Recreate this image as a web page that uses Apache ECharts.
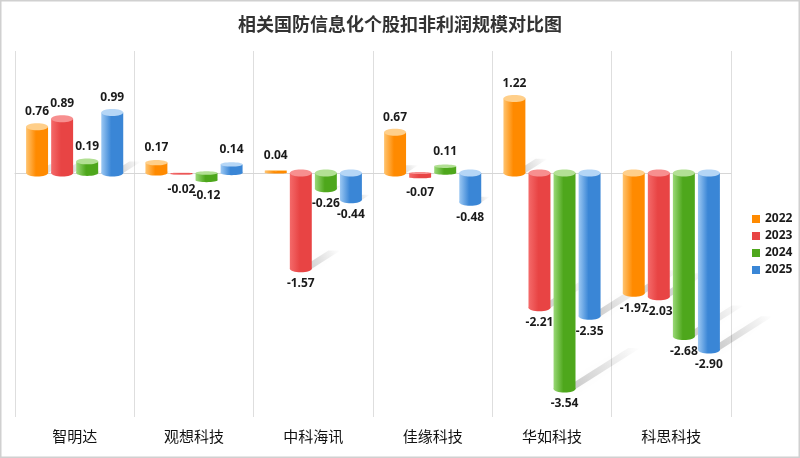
<!DOCTYPE html>
<html>
<head>
<meta charset="utf-8">
<script src="https://cdn.jsdelivr.net/npm/echarts@6/dist/echarts.min.js"></script>
<style>
  html, body { margin: 0; padding: 0; background: #fff; }
  #chart { width: 800px; height: 458px; }
</style>
</head>
<body>
<div id="chart"></div>
<script>
const companies = ["智明达", "观想科技", "中科海讯", "佳缘科技", "华如科技", "科思科技"];
const years = ["2022", "2023", "2024", "2025"];
const v2022 = [0.76, 0.17, 0.04, 0.67, 1.22, -1.97];
const v2023 = [0.89, -0.02, -1.57, -0.07, -2.21, -2.03];
const v2024 = [0.19, -0.12, -0.26, 0.11, -3.54, -2.68];
const v2025 = [0.99, 0.14, -0.44, -0.48, -2.35, -2.90];
const yearValues = [v2022, v2023, v2024, v2025];

// light / dark side of each cylinder
const colors = [
  { light: "#ffc470", dark: "#ff8a00", cap: "#ffcf8a" },
  { light: "#f46a6a", dark: "#e84444", cap: "#f78f8f" },
  { light: "#9ad877", dark: "#4ea71c", cap: "#b2e094" },
  { light: "#9cc8f3", dark: "#3a86d6", cap: "#b5d6f6" }
];

const chart = echarts.init(document.querySelector("#chart"));

// where does bar k of a category sit in pixels
const geom = (api, k) => {
  const cat = api.value(0);
  const val = api.value(1);
  const base = api.coord([cat, 0]);
  const end = api.coord([cat, val]);
  const band = api.size([1, 0])[0];
  const w = band * 0.184;
  const gap = band * 0.026;
  const cx = base[0] + (k - 1.5) * (w + gap);
  return {
    val, w, cx,
    x: cx - w / 2,
    yTop: Math.min(base[1], end[1]),
    yBot: Math.max(base[1], end[1])
  };
};

const cylinder = (k) => (params, api) => {
  const g = geom(api, k);
  const c = colors[k];
  const h = g.yBot - g.yTop;
  const ry = Math.min(3.5, h / 4);
  const fill = new echarts.graphic.LinearGradient(0, 0, 1, 0, [
    { offset: 0, color: c.light },
    { offset: 0.45, color: c.dark },
    { offset: 1, color: c.dark }
  ]);
  const label = g.val.toFixed(2);
  const ly = g.val >= 0 ? g.yTop - 15 : g.yBot + 15;
  return {
    type: "group",
    children: [
      { type: "rect", shape: { x: g.x, y: g.yTop, width: g.w, height: h }, style: { fill } },
      { type: "ellipse", shape: { cx: g.cx, cy: g.yBot, rx: g.w / 2, ry }, style: { fill } },
      { type: "ellipse", shape: { cx: g.cx, cy: g.yTop, rx: g.w / 2, ry }, style: { fill: c.cap } },
      {
        type: "text",
        style: {
          text: label, x: g.cx, y: ly, align: "center", verticalAlign: "middle",
          font: "bold 12px 'Noto Sans', sans-serif", fill: "#1a1a1a"
        },
        z2: 10
      }
    ]
  };
};

const shadow = (k) => (params, api) => {
  const g = geom(api, k);
  const h = g.yBot - g.yTop;
  if (h < 3) return null;
  const dx = h * 0.3;
  const dy = h * 0.19;
  const x0 = g.x + g.w * 0.45;
  const x1 = g.x + g.w;
  const y = g.yBot;
  return {
    type: "polygon",
    shape: { points: [[x0, y], [x1, y], [x1 + dx, y - dy], [x0 + dx, y - dy]] },
    style: {
      fill: new echarts.graphic.LinearGradient(0, 1, 1, 0, [
        { offset: 0, color: "rgba(0,0,0,0.22)" },
        { offset: 1, color: "rgba(0,0,0,0)" }
      ]),
      shadowBlur: 8,
      shadowColor: "rgba(0,0,0,0.12)"
    }
  };
};

const series = [];
years.forEach((y, k) => {
  const data = yearValues[k].map((v, i) => [i, v]);
  series.push({
    name: y + "_s", type: "custom", renderItem: shadow(k), data,
    encode: { x: 0, y: 1 }, z: 1, silent: true
  });
});
years.forEach((y, k) => {
  const data = yearValues[k].map((v, i) => [i, v]);
  series.push({
    name: y, type: "custom", renderItem: cylinder(k), data,
    encode: { x: 0, y: 1 }, z: 3, itemStyle: { color: colors[k].dark }
  });
});

chart.setOption({
  backgroundColor: "#fff",
  animation: false,
  title: {
    text: "相关国防信息化个股扣非利润规模对比图",
    left: "center",
    top: 10,
    textStyle: { fontSize: 18, fontWeight: "bold", color: "#333", fontFamily: "'Noto Sans CJK SC', sans-serif" }
  },
  legend: {
    data: years,
    orient: "vertical",
    left: 747,
    top: 208,
    icon: "rect",
    itemWidth: 8,
    itemHeight: 8,
    itemGap: 5,
    textStyle: { fontSize: 12, fontWeight: "bold", color: "#1a1a1a", fontFamily: "'Noto Sans', sans-serif" }
  },
  grid: { left: 15, right: 69, top: 51, bottom: 41 },
  xAxis: [
    {
      type: "category",
      data: companies,
      axisLine: { show: false, onZero: false },
      axisTick: { show: false },
      axisLabel: { fontSize: 15, color: "#111", margin: 12, fontFamily: "'Noto Sans CJK SC', sans-serif" },
      splitLine: { show: true, lineStyle: { color: "#dedede", width: 1 } }
    },
    {
      type: "category",
      data: companies,
      position: "bottom",
      axisLine: { show: true, onZero: true, lineStyle: { color: "#d6d6d6", width: 1 } },
      axisTick: { show: false },
      axisLabel: { show: false },
      splitLine: { show: false }
    }
  ],
  yAxis: { type: "value", min: -4, max: 2, show: false, splitLine: { show: false } },
  graphic: [
    {
      type: "rect",
      shape: { x: 0.75, y: 0.75, width: 798.5, height: 456.5 },
      style: { fill: "none", stroke: "#d0d0d0", lineWidth: 1.5 },
      silent: true
    }
  ],
  series
});
</script>
</body>
</html>
